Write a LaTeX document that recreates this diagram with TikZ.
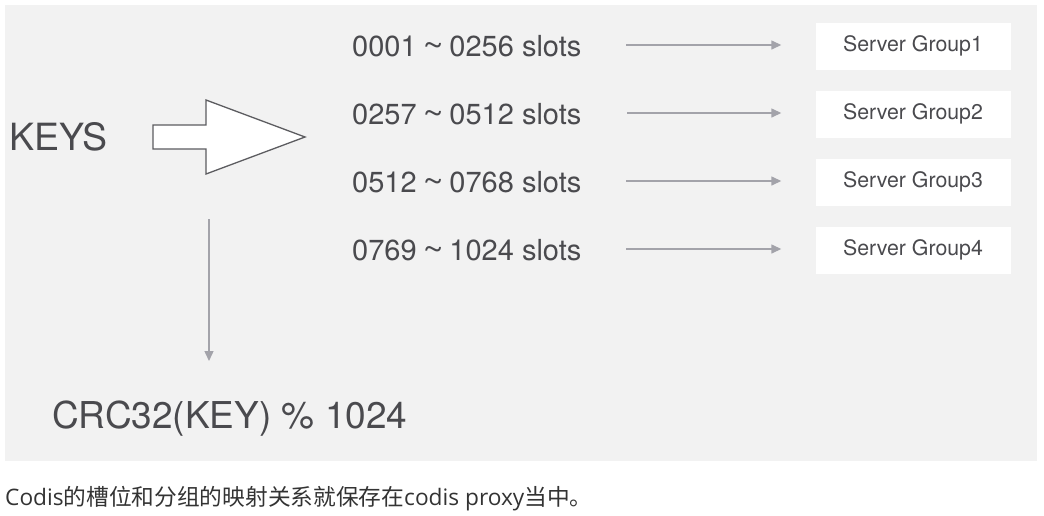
\documentclass[tikz,border=0pt]{standalone}
\usepackage{fontspec}
\setmainfont{TeX Gyre Heros}
\newfontfamily\capfont{Open Sans}
\newfontfamily\cjk{Noto Sans CJK SC}
\usetikzlibrary{arrows.meta}
\definecolor{bggray}{HTML}{F2F2F2}
\definecolor{txtgray}{HTML}{4A4A4E}
\definecolor{arrgray}{HTML}{A3A3AA}
\definecolor{capcol}{HTML}{333333}
\newcommand{\tld}{\scalebox{1.25}[1.1]{\char"007E}}
\tikzset{
  slottext/.style={anchor=base west, inner sep=0pt, text=txtgray, font=\fontsize{29}{34}\selectfont},
  groupbox/.style={fill=white, draw=none, minimum width=195pt, minimum height=47pt, inner sep=0pt, text=txtgray, font=\fontsize{21.3}{25}\selectfont},
  conn/.style={draw=arrgray, line width=1.4pt, -{Triangle[width=9pt,length=10pt]}},
}
\begin{document}
\begin{tikzpicture}[x=1pt,y=-1pt]
\useasboundingbox (0,0) rectangle (1044,515);
\fill[bggray] (5,5) rectangle (1037,461);

\node[anchor=base west, inner sep=0pt, text=txtgray, font=\fontsize{37.5}{42}\selectfont] (keys) at (9,150) {KEYS};
\draw[draw=txtgray!90, line width=1.3pt, fill=white, line join=miter]
  (153,125) -- (206,125) -- (206,100) -- (305,137) -- (206,174) -- (206,149) -- (153,149) -- cycle;

\node[slottext] (s1) at (352,56.5) {0001\hspace{0.2em}\tld\hspace{0.2em}0256 slots};
\node[slottext] (s2) at (352,124.5) {0257\hspace{0.2em}\tld\hspace{0.2em}0512 slots};
\node[slottext] (s3) at (352,192.5) {0512\hspace{0.2em}\tld\hspace{0.2em}0768 slots};
\node[slottext] (s4) at (352,260.5) {0769\hspace{0.2em}\tld\hspace{0.2em}1024 slots};

\node[groupbox] (g1) at (913,46) {Server Group1};
\node[groupbox] (g2) at (913,114) {Server Group2};
\node[groupbox] (g3) at (913,182) {Server Group3};
\node[groupbox] (g4) at (913,250) {Server Group4};

\coordinate (a1) at (626,45);
\coordinate (a2) at (627,113);
\coordinate (a3) at (626,181);
\coordinate (a4) at (626,249);
\draw[conn] (a1) -- ([xshift=-34pt]g1.west |- a1);
\draw[conn] (a2) -- ([xshift=-34pt]g2.west |- a2);
\draw[conn] (a3) -- ([xshift=-34pt]g3.west |- a3);
\draw[conn] (a4) -- ([xshift=-34pt]g4.west |- a4);

\coordinate (vtop) at (209,219);
\coordinate (vbot) at (209,361);
\node[anchor=base west, inner sep=0pt, text=txtgray, font=\fontsize{37}{42}\selectfont] (crc) at (52,428) {CRC32(KEY) \% 1024};
\draw[conn] (vtop) -- (vbot);

\node[anchor=base west, inner sep=0pt, text=capcol, font=\fontsize{22.7}{27}\selectfont] (cap) at (5,505)
  {{\capfont Codis}{\cjk 的槽位和分组的映射关系就保存在}{\capfont codis proxy}{\cjk 当中。}};
\end{tikzpicture}
\end{document}
